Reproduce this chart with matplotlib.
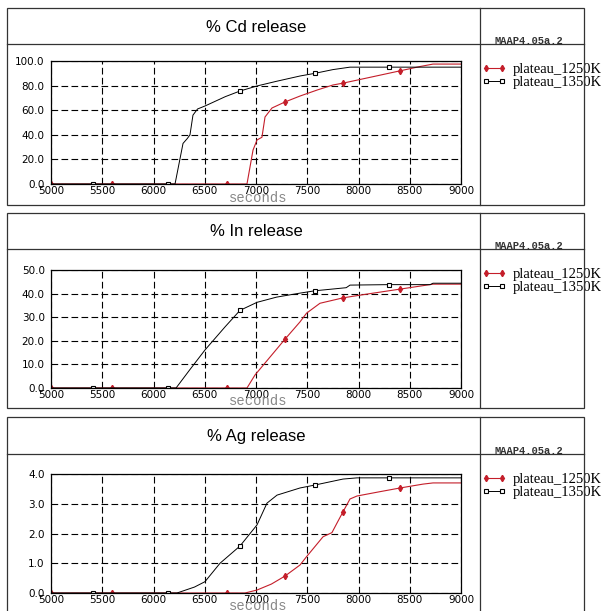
import matplotlib
matplotlib.use("Agg")
import matplotlib.pyplot as plt
from matplotlib.patches import Rectangle
from matplotlib.lines import Line2D
import numpy as np

W, H = 601, 611

# --- data ----------------------------------------------------------------
titles = ["% Cd release", "% In release", "% Ag release"]
y_max = [100.0, 50.0, 4.0]
y_step = [20.0, 10.0, 1.0]
x_ticks = [5000, 5500, 6000, 6500, 7000, 7500, 8000, 8500, 9000]
series_names = ["plateau_1250K", "plateau_1350K"]

cd_1250_x = [5000, 5595, 6717, 6912, 6971, 7010, 7058, 7088, 7156, 7283, 7429,
             7600, 7751, 7849, 8100, 8405, 8600, 8727, 9000]
cd_1250_y = [0, 0, 0, 0, 27.6, 35.8, 38.0, 54.5, 61.8, 66.7, 71.5,
             76.5, 80.5, 82.0, 86.5, 92.0, 95.5, 97.5, 97.5]
cd_1350_x = [5000, 5410, 6141, 6210, 6288, 6330, 6356, 6385, 6430, 6502, 6700,
             6844, 7010, 7200, 7429, 7576, 7750, 7917, 8298, 9000]
cd_1350_y = [0, 0, 0, 0, 33.0, 37.0, 40.0, 56.0, 61.0, 63.4, 71.0,
             75.6, 79.7, 83.5, 87.8, 90.0, 93.0, 95.0, 95.0, 95.0]

in_1250_x = [5000, 5595, 6717, 6912, 6990, 7283, 7429, 7493, 7624, 7849, 8083,
             8405, 8727, 9000]
in_1250_y = [0, 0, 0, 0, 5.5, 20.7, 28.0, 31.7, 35.9, 38.2, 39.8,
             41.9, 44.0, 44.0]
in_1350_x = [5000, 5410, 6141, 6220, 6350, 6502, 6700, 6844, 7010, 7200, 7429,
             7576, 7880, 7917, 8298, 8700, 8727, 9000]
in_1350_y = [0, 0, 0, 0, 7.5, 16.1, 26.0, 32.9, 36.3, 38.5, 40.2,
             41.2, 42.5, 43.6, 43.8, 43.8, 44.4, 44.4]

ag_1250_x = [5000, 5595, 6717, 6893, 7010, 7150, 7283, 7429, 7493, 7654, 7741,
             7790, 7849, 7917, 7985, 8200, 8405, 8629, 8727, 9000]
ag_1250_y = [0, 0, 0, 0, 0.10, 0.30, 0.57, 0.94, 1.22, 1.89, 2.03,
             2.35, 2.73, 3.16, 3.26, 3.40, 3.53, 3.66, 3.70, 3.70]
ag_1350_x = [5000, 5410, 6141, 6229, 6400, 6502, 6649, 6844, 7010, 7107, 7205,
             7429, 7576, 7849, 7985, 8298, 9000]
ag_1350_y = [0, 0, 0, 0, 0.20, 0.38, 1.00, 1.58, 2.29, 3.02, 3.29,
             3.53, 3.63, 3.83, 3.87, 3.87, 3.87]

# x positions where the plotting program put its symbols
marks_1250 = [5000, 5595, 6717, 7283, 7849, 8405]
marks_1350 = [5410, 6141, 6844, 7576, 8298]

curves = [
    ((cd_1250_x, cd_1250_y), (cd_1350_x, cd_1350_y)),
    ((in_1250_x, in_1250_y), (in_1350_x, in_1350_y)),
    ((ag_1250_x, ag_1250_y), (ag_1350_x, ag_1350_y)),
]

RED = "#c41e2a"

# pixel layout of the three panels: (box top, title line, axes top, axes bottom, box bottom)
panels = [(8, 44, 61, 184, 205), (213, 249, 270, 388, 408), (417, 454, 474, 593, 616)]
BOX_L, BOX_DIV, BOX_R = 7, 480, 584
AX_L, AX_R = 51, 461


def fx(px):
    return px / W


def fy(py):
    return 1 - py / H


def mark_idx(xs, marks):
    return [i for i, v in enumerate(xs) if v in marks]


fig = plt.figure(figsize=(W / 100, H / 100), dpi=100)
fig.patch.set_facecolor("white")

for k, (top, tline, atop, abot, bot) in enumerate(panels):
    # frame around the panel
    edge = "#333333"
    fig.add_artist(Rectangle((fx(BOX_L), fy(bot)), fx(BOX_R) - fx(BOX_L), fy(top) - fy(bot),
                             transform=fig.transFigure, fill=False, ec=edge, lw=0.9))
    fig.add_artist(Line2D([fx(BOX_L), fx(BOX_R)], [fy(tline), fy(tline)],
                          transform=fig.transFigure, color=edge, lw=0.9))
    fig.add_artist(Line2D([fx(BOX_DIV), fx(BOX_DIV)], [fy(top), fy(bot)],
                          transform=fig.transFigure, color=edge, lw=0.9))
    fig.text(fx((AX_L + AX_R) / 2), fy((top + tline) / 2 + 1), titles[k],
             ha="center", va="center", fontsize=12, family="Liberation Sans")
    fig.text(fx(529), fy(tline - 3), "MAAP4.05a.2",
             ha="center", va="center", fontsize=7.5, family="Liberation Mono",
             weight="bold", color="#333333")

    ax = fig.add_axes([fx(AX_L), fy(abot), fx(AX_R) - fx(AX_L), fy(atop) - fy(abot)])
    (x1, y1), (x2, y2) = curves[k]
    ax.plot(x1, y1, color=RED, lw=0.8, marker="d", ms=3.2, mfc=RED, mec=RED,
            markevery=mark_idx(x1, marks_1250), label=series_names[0])
    ax.plot(x2, y2, color="black", lw=0.7, marker="s", ms=3, mfc="white", mec="black",
            mew=0.8, markevery=mark_idx(x2, marks_1350), label=series_names[1])

    ax.set_xlim(5000, 9000)
    ax.set_ylim(0, y_max[k])
    ax.set_xticks(x_ticks)
    ax.set_yticks(np.arange(0, y_max[k] + y_step[k] / 2, y_step[k]))
    ax.yaxis.set_major_formatter(matplotlib.ticker.FormatStrFormatter("%.1f"))
    ax.tick_params(length=0, labelsize=7.5, pad=1.5)
    ax.tick_params(axis="y", pad=4.5)
    ax.grid(True, color="black", ls=(0, (6, 3)), lw=0.8)
    for s in ax.spines.values():
        s.set_linewidth(0.9)
        s.set_color("black")
    ax.text(0.506, -0.11, "seconds", transform=ax.transAxes, ha="center", va="center",
            fontsize=10, family="Liberation Mono", color="#888888")

    ax.legend(loc="upper left", bbox_to_anchor=(fx(BOX_DIV + 2), fy(tline + 19)),
              bbox_transform=fig.transFigure, frameon=False, numpoints=2,
              handlelength=1.7, handletextpad=0.4, labelspacing=0.0, borderpad=0,
              borderaxespad=0, prop={"family": "Liberation Serif", "size": 10.5})

fig.savefig("out.png", dpi=100)
